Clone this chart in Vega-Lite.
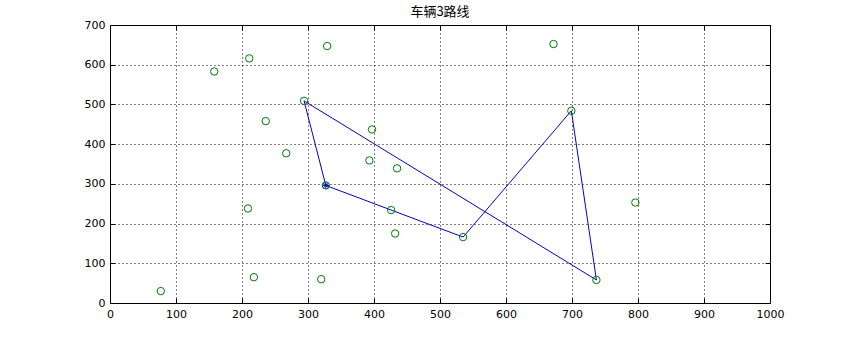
{
  "$schema": "https://vega.github.io/schema/vega-lite/v6.json",
  "width": 660,
  "height": 278,
  "autosize": {"type": "none"},
  "padding": {"left": 110, "top": 25, "right": 80, "bottom": 37},
  "background": "white",
  "title": {"text": "车辆3路线", "font": "Noto Sans CJK SC", "fontSize": 13, "fontWeight": "normal", "color": "black", "offset": 0},
  "config": {
    "view": {"stroke": "black", "strokeWidth": 1},
    "axis": {
      "domainColor": "black",
      "tickColor": "black",
      "tickSize": -5,
      "labelFont": "DejaVu Sans",
      "labelFontSize": 11,
      "labelColor": "black",
      "labelPadding": 10,
      "gridColor": "black",
      "gridOpacity": 1,
      "gridDash": [1, 3],
      "gridWidth": 1,
      "title": null,
      "labelFlush": false,
      "format": "d"
    }
  },
  "datasets": {
    "pts": [
      {"x": 77, "y": 30}, {"x": 218, "y": 65}, {"x": 320, "y": 60}, {"x": 209, "y": 238},
      {"x": 158, "y": 583}, {"x": 211, "y": 616}, {"x": 329, "y": 647}, {"x": 294, "y": 509},
      {"x": 236, "y": 458}, {"x": 397, "y": 437}, {"x": 267, "y": 377}, {"x": 393, "y": 359},
      {"x": 435, "y": 339}, {"x": 327, "y": 296}, {"x": 426, "y": 234}, {"x": 432, "y": 175},
      {"x": 535, "y": 166}, {"x": 672, "y": 652}, {"x": 699, "y": 484}, {"x": 796, "y": 253},
      {"x": 737, "y": 58}
    ],
    "route": [
      {"o": 1, "x": 327, "y": 296}, {"o": 2, "x": 294, "y": 509}, {"o": 3, "x": 737, "y": 58},
      {"o": 4, "x": 699, "y": 484}, {"o": 5, "x": 535, "y": 166}, {"o": 6, "x": 426, "y": 234},
      {"o": 7, "x": 327, "y": 296}
    ],
    "depot": [{"x": 327, "y": 296}]
  },
  "layer": [
    {
      "data": {"name": "route"},
      "mark": {"type": "line", "color": "#0000cc", "strokeWidth": 1},
      "encoding": {
        "x": {"field": "x", "type": "quantitative", "scale": {"domain": [0, 1000], "nice": false}, "axis": {"values": [0,100,200,300,400,500,600,700,800,900,1000], "grid": true}},
        "y": {"field": "y", "type": "quantitative", "scale": {"domain": [0, 700], "nice": false}, "axis": {"values": [0,100,200,300,400,500,600,700], "grid": true}},
        "order": {"field": "o"}
      }
    },
    {
      "data": {"name": "pts"},
      "mark": {"type": "point", "shape": "circle", "filled": false, "color": "#007a00", "size": 55, "strokeWidth": 1, "opacity": 1},
      "encoding": {
        "x": {"field": "x", "type": "quantitative", "axis": {"orient": "top", "labels": false, "grid": false, "domain": false, "values": [0,100,200,300,400,500,600,700,800,900,1000]}},
        "y": {"field": "y", "type": "quantitative", "axis": {"orient": "right", "labels": false, "grid": false, "domain": false, "values": [0,100,200,300,400,500,600,700]}}
      }
    },
    {
      "data": {"name": "depot"},
      "mark": {"type": "point", "shape": "M-1,0L1,0M0,-1L0,1M-0.7,-0.7L0.7,0.7M-0.7,0.7L0.7,-0.7", "filled": false, "color": "#0000cc", "size": 45, "strokeWidth": 1, "opacity": 1},
      "encoding": {
        "x": {"field": "x", "type": "quantitative", "axis": null},
        "y": {"field": "y", "type": "quantitative", "axis": null}
      }
    }
  ],
  "resolve": {"axis": {"x": "independent", "y": "independent"}}
}
